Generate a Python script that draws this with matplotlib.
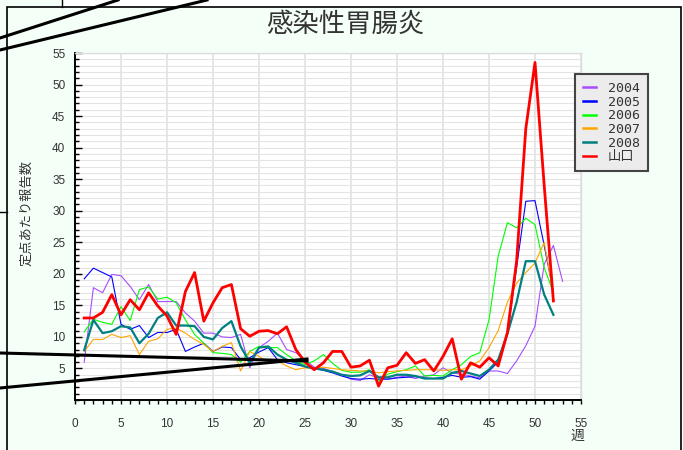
import matplotlib
matplotlib.use("Agg")
import matplotlib.pyplot as plt
from matplotlib.lines import Line2D
from matplotlib.patches import Rectangle
from matplotlib.ticker import MultipleLocator

plt.rcParams['font.family'] = ['Liberation Sans', 'Noto Sans CJK JP', 'DejaVu Sans']

# weekly reports per sentinel
y2004 = [6.0, 17.8, 17.0, 19.9, 19.7, 18.0, 15.9, 18.3, 15.6, 15.6, 15.6, 13.8, 12.5,
         10.6, 10.6, 10.0, 9.9, 10.4, 5.1, 8.3, 9.3, 10.6, 8.0, 7.5, 6.4, 5.2, 5.0,
         4.5, 4.0, 3.3, 3.1, 4.0, 3.5, 3.3, 3.6, 3.8, 3.4, 3.8, 4.0, 5.1, 4.3, 4.1,
         3.8, 3.5, 4.6, 4.6, 4.2, 6.2, 8.6, 11.7, 21.5, 24.5, 18.8]
y2005 = [19.2, 20.9, 20.2, 19.5, 12.0, 11.2, 11.8, 9.9, 10.7, 10.7, 11.2, 7.7, 8.4,
         9.0, 7.7, 8.4, 8.3, 6.4, 6.7, 7.6, 8.3, 6.4, 5.9, 5.6, 5.3, 5.0, 4.7, 4.3,
         3.8, 3.4, 3.3, 3.4, 3.3, 3.3, 3.5, 3.6, 3.7, 3.5, 3.4, 3.6, 3.9, 3.6, 3.7,
         3.3, 4.6, 6.0, 10.5, 21.0, 31.5, 31.6, 24.5, 17.0]
y2006 = [10.8, 12.8, 12.3, 12.0, 14.8, 12.6, 17.5, 17.9, 16.0, 16.3, 15.4, 12.7, 10.4,
         9.0, 7.5, 7.4, 7.2, 6.0, 7.7, 8.5, 8.3, 8.3, 7.2, 6.2, 5.6, 6.2, 7.2, 5.8,
         4.7, 4.4, 4.4, 4.8, 3.0, 4.1, 4.5, 4.8, 5.4, 3.8, 3.9, 3.8, 4.8, 5.6, 6.9,
         7.5, 12.7, 22.8, 28.1, 27.3, 28.8, 27.8, 21.0, 17.0]
y2007 = [7.7, 9.6, 9.6, 10.4, 9.9, 10.2, 7.2, 9.3, 9.7, 11.2, 11.4, 10.6, 9.6, 8.8,
         7.7, 8.5, 9.1, 4.6, 7.7, 6.9, 5.9, 6.2, 5.4, 4.8, 5.1, 5.0, 5.2, 5.0, 4.8,
         4.7, 4.6, 4.6, 4.3, 4.5, 4.6, 4.7, 4.8, 4.8, 4.8, 4.7, 4.8, 4.8, 5.4, 6.2,
         8.3, 11.0, 15.5, 18.5, 20.2, 21.7, 25.0, 16.8]
y2008 = [7.9, 12.7, 10.6, 10.9, 11.7, 11.5, 9.0, 10.5, 13.0, 13.9, 11.8, 11.8, 11.7,
         10.0, 9.6, 11.4, 12.5, 8.5, 5.9, 8.3, 8.5, 7.2, 6.4, 5.9, 5.3, 5.0, 4.8, 4.5,
         4.0, 3.8, 3.9, 4.6, 3.6, 3.6, 4.0, 4.0, 3.8, 3.4, 3.4, 3.4, 4.3, 4.6, 4.2,
         3.8, 4.8, 6.4, 10.5, 15.5, 22.0, 22.0, 16.7, 13.5]
yamaguchi = [13.0, 13.0, 13.9, 16.7, 13.5, 15.9, 14.3, 17.0, 14.9, 13.3, 10.4, 17.2, 20.2,
             12.5, 15.4, 17.8, 18.3, 11.3, 10.1, 10.9, 11.0, 10.5, 11.6, 8.0, 6.0, 4.8,
             5.9, 7.7, 7.7, 5.2, 5.4, 6.3, 2.2, 5.1, 5.5, 7.5, 5.8, 6.4, 4.6, 6.9, 9.7,
             3.3, 5.9, 5.2, 6.7, 5.4, 10.7, 22.0, 43.0, 53.5, 34.0, 15.7]

labels = ['2004', '2005', '2006', '2007', '2008', '山口']
series = [y2004, y2005, y2006, y2007, y2008, yamaguchi]
colors = ['#a64dff', '#0000ff', '#00ff00', '#ffa500', '#008080', '#ff0000']
widths = [0.8, 0.8, 0.8, 0.8, 1.6, 2.0]

W, H = 683, 450
def fx(x):
    return x / W
def fy(y):
    return 1 - y / H

fig = plt.figure(figsize=(6.83, 4.5), dpi=100, facecolor='white')

# page background / panel
fig.patches.append(Rectangle((fx(0), fy(450)), fx(62), 1, transform=fig.transFigure,
                             facecolor='#f4fff8', edgecolor='none', zorder=-2))
fig.patches.append(Rectangle((fx(7), fy(460)), fx(674), 453 / H, transform=fig.transFigure,
                             facecolor='#f4fff8', edgecolor='black', lw=1.2, zorder=-1))
fig.add_artist(Line2D([fx(62), fx(62)], [fy(0), fy(7)], color='black', lw=1.0))
fig.add_artist(Line2D([fx(0), fx(7)], [fy(212), fy(212)], color='black', lw=1.0))

ax = fig.add_axes([fx(75), fy(400), fx(581) - fx(75), fy(53) - fy(400)], zorder=1)
ax.set_facecolor('white')

weeks = list(range(1, 54))
for lab, ys, c, lw in zip(labels, series, colors, widths):
    ax.plot(weeks[:len(ys)], ys, color=c, lw=lw, label=lab, zorder=3)

ax.set_xlim(0, 55)
ax.set_ylim(0, 55)
ax.xaxis.set_major_locator(MultipleLocator(5))
ax.xaxis.set_minor_locator(MultipleLocator(1))
ax.yaxis.set_minor_locator(MultipleLocator(1))
ax.set_yticks(range(5, 56, 5))

ax.grid(True, axis='x', which='major', color='#e4e4e4', lw=1.3, zorder=0)
ax.grid(True, axis='y', which='both', color='#e4e4e4', lw=0.8, zorder=0)
ax.set_axisbelow(True)

for s in ['top', 'right']:
    ax.spines[s].set_color('#dddddd')
    ax.spines[s].set_linewidth(1.0)
for s in ['left', 'bottom']:
    ax.spines[s].set_color('black')
    ax.spines[s].set_linewidth(1.4)

ax.tick_params(axis='y', which='major', direction='in', length=5, width=1, pad=7,
               labelsize=8.5, labelcolor='#333333')
ax.tick_params(axis='y', which='minor', direction='in', length=3, width=1)
ax.tick_params(axis='x', which='both', direction='out', length=3, width=1)
ax.tick_params(axis='x', which='major', pad=10, labelsize=8.5, labelcolor='#333333')

fig.text(0.505, fy(24), '感染性胃腸炎', ha='center', va='center', fontsize=19,
         color='#333333', family=['Noto Sans CJK JP', 'DejaVu Sans'])
fig.text(fx(27), fy(213), '定点あたり報告数', rotation=90, ha='center', va='center',
         fontsize=9.5, color='#333333', family=['Noto Sans CJK JP', 'DejaVu Sans'])
fig.text(fx(577), fy(436), '週', ha='center', va='center', fontsize=10,
         color='#333333', family=['Noto Sans CJK JP', 'DejaVu Sans'])

leg = fig.legend(loc='upper left', bbox_to_anchor=(fx(575), fy(74)), frameon=True,
                 fancybox=False, edgecolor='#444444', facecolor='#ececec', framealpha=1,
                 prop={'family': ['DejaVu Sans Mono', 'Noto Sans CJK JP'], 'size': 9.5},
                 handlelength=1.0, handletextpad=0.9, labelspacing=0.05, borderpad=0.6,
                 borderaxespad=0)
leg.set_zorder(5)
leg.get_frame().set_linewidth(1.5)
for t in leg.get_texts():
    t.set_color('#333333')
for h in leg.legend_handles:
    h.set_linewidth(1.8)

# stray page lines seen in the screenshot
for (x0, y0), (x1, y1) in [((0, 38), (118, 0)), ((0, 50), (207, 0)),
                           ((0, 353), (307, 361)), ((0, 388), (307, 359))]:
    fig.add_artist(Line2D([fx(x0), fx(x1)], [fy(y0), fy(y1)], color='black', lw=2.2,
                          zorder=10))

fig.savefig('out.png', dpi=100, facecolor=fig.get_facecolor())
